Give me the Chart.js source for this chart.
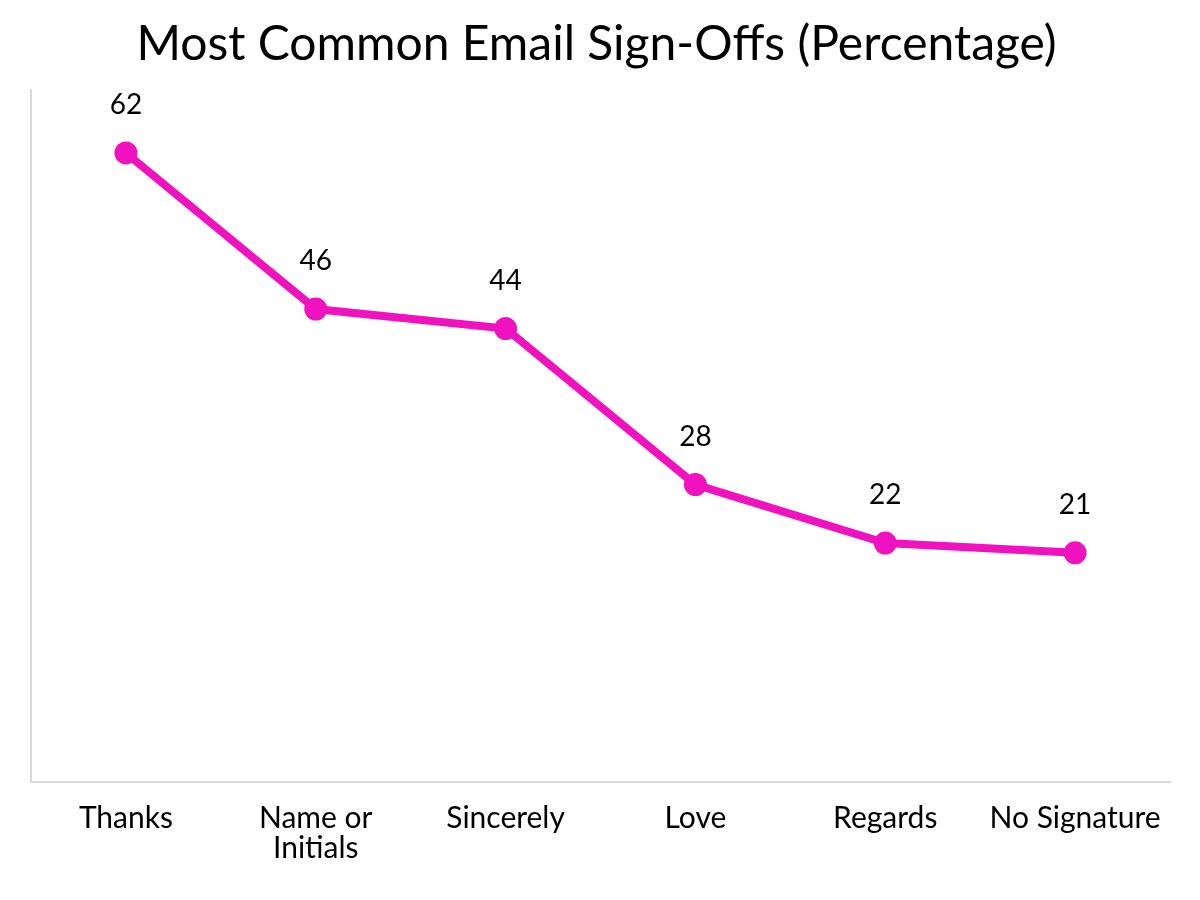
<!DOCTYPE html>
<html>
<head>
<meta charset="utf-8">
<script src="https://cdn.jsdelivr.net/npm/chart.js@4"></script>
<style>
  html, body { margin: 0; padding: 0; background: #fff; }
  #wrap { width: 1200px; height: 900px; }
</style>
</head>
<body>
<div id="wrap"><canvas id="myChart" width="1200" height="900"></canvas></div>
<script>
const labels = ["Thanks", ["Name or", "Initials"], "Sincerely", "Love", "Regards", "No Signature"];
const values = [62, 46, 44, 28, 22, 21];
const lineColor = "#f012be";

// value labels above each point
const pointLabels = {
  id: "pointLabels",
  afterDatasetsDraw(chart) {
    const ctx = chart.ctx;
    const meta = chart.getDatasetMeta(0);
    ctx.save();
    ctx.font = "28px Lato";
    ctx.fillStyle = "#000";
    ctx.textAlign = "center";
    ctx.textBaseline = "middle";
    meta.data.forEach((pt, i) => {
      ctx.fillText(values[i], pt.x, pt.y - 48);
    });
    ctx.restore();
  },
};

const config = {
  type: "line",
  data: {
    labels,
    datasets: [
      {
        data: values,
        borderColor: lineColor,
        backgroundColor: lineColor,
        borderWidth: 8,
        pointRadius: 11.5,
        pointBorderWidth: 0,
        tension: 0,
      },
    ],
  },
  options: {
    responsive: false,
    animation: false,
    layout: { padding: { left: 23, right: 30, top: 0, bottom: 24 } },
    plugins: {
      legend: { display: false },
      tooltip: { enabled: false },
      title: {
        display: true,
        text: "Most Common Email Sign-Offs (Percentage)",
        font: { family: "Lato", size: 48, weight: "normal" },
        color: "#000",
        padding: { top: 16, bottom: 16 },
      },
    },
    scales: {
      x: {
        offset: true,
        grid: { display: false },
        border: { color: "#d9d9d9", width: 2 },
        ticks: {
          color: "#000",
          font: { family: "Lato", size: 30, lineHeight: 1 },
          padding: 13,
          maxRotation: 0,
        },
      },
      y: {
        min: -2.5,
        max: 68.5,
        grid: { display: false },
        border: { color: "#d9d9d9", width: 2 },
        ticks: { display: false },
      },
    },
  },
  plugins: [pointLabels],
};

const myChart = new Chart(document.querySelector("#myChart"), config);
</script>
</body>
</html>
